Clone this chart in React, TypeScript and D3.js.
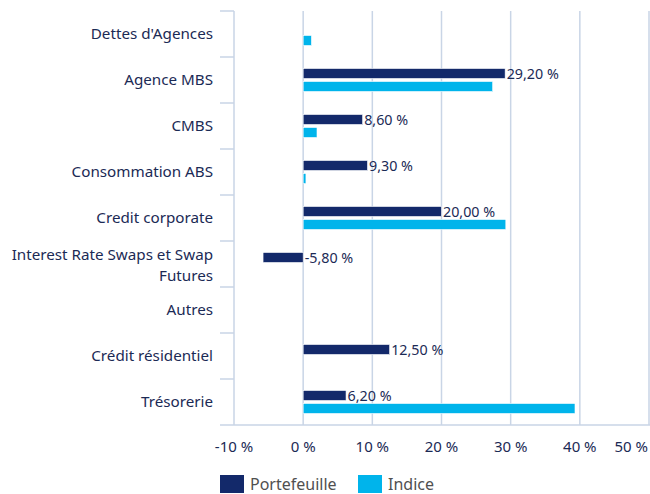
import React from "react";
import * as d3 from "d3";

const categories = [
  "Dettes d'Agences",
  "Agence MBS",
  "CMBS",
  "Consommation ABS",
  "Credit corporate",
  "Interest Rate Swaps et Swap Futures",
  "Autres",
  "Crédit résidentiel",
  "Trésorerie",
];
const categoryLines: string[][] = [
  ["Dettes d'Agences"],
  ["Agence MBS"],
  ["CMBS"],
  ["Consommation ABS"],
  ["Credit corporate"],
  ["Interest Rate Swaps et Swap", "Futures"],
  ["Autres"],
  ["Crédit résidentiel"],
  ["Trésorerie"],
];
const portefeuille = [0, 29.2, 8.6, 9.3, 20.0, -5.8, 0, 12.5, 6.2];
const indice = [1.2, 27.4, 2.0, 0.4, 29.3, 0, 0, 0, 39.3];
const ticks = [-10, 0, 10, 20, 30, 40, 50];
const seriesNames = ["Portefeuille", "Indice"];

const NAVY = "#13296a";
const CYAN = "#00b4eb";
const GRID = "#c9d5e6";
const TEXT = "#1b2a55";
const FONT = "'Noto Sans', sans-serif";

export default function App() {
  const W = 650, H = 494;
  const x = d3.scaleLinear().domain([-10, 50]).range([234, 649]);
  const y = d3.scaleBand().domain(categories).range([11, 425]);
  const barH = 10, gap = 3;
  const fmt = (v: number) => v.toFixed(2).replace(".", ",") + " %";

  return (
    <svg width={W} height={H} style={{ position: "absolute", left: 0, top: 0 }} fontFamily={FONT}>
      <rect width={W} height={H} fill="#fff" />
      {ticks.map((t) => (
        <line key={t} x1={x(t)} x2={x(t)} y1={11} y2={425} stroke={GRID} strokeWidth={1.5} />
      ))}
      <line x1={220} x2={650} y1={425} y2={425} stroke={GRID} strokeWidth={1.5} />
      {categories.map((c, i) => (
        <line key={"t" + i} x1={220} x2={234} y1={y(c)!} y2={y(c)!} stroke={GRID} strokeWidth={1.5} />
      ))}
      {categories.map((c, i) => {
        const cy = y(c)! + y.bandwidth() / 2;
        const yP = cy - gap / 2 - barH;
        const yI = cy + gap / 2;
        const p = portefeuille[i];
        const ind = indice[i];
        return (
          <g key={c}>
            {p !== 0 && (
              <rect x={x(Math.min(0, p))} y={yP} width={Math.abs(x(p) - x(0))} height={barH} fill={NAVY} stroke="#fff" strokeWidth={0.6} />
            )}
            {ind !== 0 && (
              <rect x={x(Math.min(0, ind))} y={yI} width={Math.abs(x(ind) - x(0))} height={barH} fill={CYAN} stroke="#fff" strokeWidth={0.6} />
            )}
            {p !== 0 && (
              <text x={x(Math.max(0, p)) + 1.5} y={yP + barH / 2} dy="0.35em" fontSize={14.3} fill={TEXT}>
                {fmt(p)}
              </text>
            )}
          </g>
        );
      })}
      {categories.map((c, i) => {
        const lines = categoryLines[i];
        const cy = y(c)! + y.bandwidth() / 2;
        const lh = 21;
        const start = cy - ((lines.length - 1) * lh) / 2 + (lines.length > 1 ? 1.5 : 0);
        return (
          <text key={"l" + i} x={213} textAnchor="end" fontSize={15.2} fill={TEXT}>
            {lines.map((ln, k) => (
              <tspan key={k} x={213} y={start + k * lh} dy="0.35em">{ln}</tspan>
            ))}
          </text>
        );
      })}
      {ticks.map((t, i) => {
        const last = i === ticks.length - 1;
        return (
          <text key={"x" + t} x={last ? 648 : x(t)} y={447} dy="0.35em" textAnchor={last ? "end" : "middle"} fontSize={15} fill={TEXT}>
            {t + " %"}
          </text>
        );
      })}
      {seriesNames.map((s, i) => {
        const lx = i === 0 ? 220 : 358;
        return (
          <g key={s}>
            <rect x={lx} y={475} width={24} height={18} fill={i === 0 ? NAVY : CYAN} />
            <text x={lx + 30} y={484} dy="0.35em" fontSize={16} fill="#505050">{s}</text>
          </g>
        );
      })}
    </svg>
  );
}
